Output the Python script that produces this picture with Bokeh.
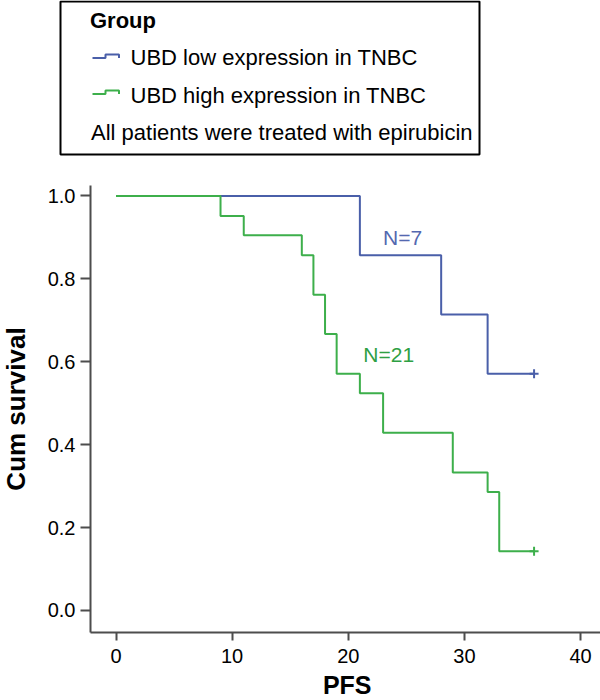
import math
from bokeh.plotting import figure
from bokeh.layouts import column, row
from bokeh.models import Range1d, FixedTicker, CustomJSTickFormatter
from bokeh.core.properties import value
from bokeh.embed import file_html
from bokeh.resources import INLINE

# ---- data (Kaplan-Meier PFS steps) ----
low_time = [0, 21, 28, 32, 36]
low_surv = [1.0, 0.857, 0.714, 0.571, 0.571]
high_time = [0, 9, 11, 16, 17, 18, 19, 21, 23, 29, 32, 33, 36]
high_surv = [1.0, 0.952, 0.905, 0.857, 0.762, 0.667, 0.571, 0.524, 0.429, 0.333, 0.286, 0.143, 0.143]
low_censor_t = [36]
low_censor_s = [0.571]
high_censor_t = [36]
high_censor_s = [0.143]
x_ticks = [0, 10, 20, 30, 40]
y_ticks = [0.0, 0.2, 0.4, 0.6, 0.8, 1.0]
group_labels = ["UBD low expression in TNBC", "UBD high expression in TNBC"]
n_labels = ["N=7", "N=21"]
x_title = "PFS"
y_title = "Cum survival"

BLUE = "#4a5fa9"
GREEN = "#3daf4b"
FONT = value("Liberation Sans")

# ---- legend panel (coordinates = pixels of the panel) ----
LH = 170
lf = figure(width=600, height=LH, x_range=Range1d(0, 600), y_range=Range1d(LH, 0),
            output_backend="svg", toolbar_location=None, min_border=0,
            x_axis_location=None, y_axis_location=None, outline_line_color=None)
lf.grid.grid_line_color = None
lf.quad(left=[60], right=[479], top=[1], bottom=[154], fill_color=None,
        line_color="black", line_width=2)
lf.text(x=[89.5], y=[20.3], text=["Group"], text_font=FONT, text_font_style="bold",
        text_font_size="22px", text_baseline="alphabetic", text_align="left", text_color="black")
lf.text(x=[130, 130], y=[56.7, 94.5], text=group_labels, text_font=FONT,
        text_font_size="22px", text_baseline="alphabetic", text_align="left", text_color="black")
lf.text(x=[90.5], y=[131.7], text=["All patients were treated with epirubicin"], text_font=FONT,
        text_font_size="22px", text_baseline="alphabetic", text_align="left", text_color="black")
lf.line([92, 105, 105, 118.5, 118.5], [57.5, 57.5, 54, 54, 57.5], line_color=BLUE, line_width=2)
lf.line([92, 105, 105, 118.5, 118.5], [93.5, 93.5, 90, 90, 93.5], line_color=GREEN, line_width=2)

# ---- chart ----
YW = 32
BT, BB = 185 - LH, 40
CH = 632 + BB - LH
p = figure(width=600 - YW, height=CH, x_range=Range1d(-2.196, 41.72), y_range=Range1d(-0.0531, 1.0253),
           output_backend="svg", toolbar_location=None,
           min_border_left=90 - YW, min_border_right=0, min_border_top=BT, min_border_bottom=BB,
           outline_line_color=None)
p.grid.grid_line_color = None

p.step(low_time, low_surv, mode="after", line_color=BLUE, line_width=2)
p.step(high_time, high_surv, mode="after", line_color=GREEN, line_width=2)
p.scatter(low_censor_t, low_censor_s, marker="cross", size=9, line_color=BLUE, line_width=2)
p.scatter(high_censor_t, high_censor_s, marker="cross", size=9, line_color=GREEN, line_width=2)

p.text(x=[23.0], y=[0.9006], text=[n_labels[0]], text_font=FONT, text_font_size="21px",
       text_color="#5468b0", text_baseline="alphabetic", text_align="left")
p.text(x=[21.3], y=[0.6176], text=[n_labels[1]], text_font=FONT, text_font_size="21px",
       text_color="#2ea043", text_baseline="alphabetic", text_align="left")

for ax in (p.xaxis[0], p.yaxis[0]):
    ax.axis_line_color = "#4d4d4d"
    ax.axis_line_width = 2
    ax.major_tick_line_color = "#4d4d4d"
    ax.major_tick_line_width = 2
    ax.minor_tick_line_color = None
    ax.major_tick_in = 0
    ax.major_label_text_font = "Liberation Sans"
    ax.major_label_text_font_size = "20px"
    ax.major_label_text_color = "black"

p.xaxis.ticker = FixedTicker(ticks=x_ticks)
p.yaxis.ticker = FixedTicker(ticks=y_ticks)
p.yaxis.formatter = CustomJSTickFormatter(code="return tick.toFixed(1);")
p.xaxis.major_tick_out = 8
p.xaxis.major_label_standoff = 8
p.yaxis.major_tick_out = 10
p.yaxis.major_label_standoff = 5

# ---- y-axis title strip (shares the chart's y scale) ----
yl = figure(width=YW, height=CH, x_range=Range1d(0, YW), y_range=p.y_range,
            output_backend="svg", toolbar_location=None,
            min_border_left=0, min_border_right=0, min_border_top=BT, min_border_bottom=BB,
            x_axis_location=None, y_axis_location=None, outline_line_color=None)
yl.grid.grid_line_color = None
yl.text(x=[15.5], y=[(p.y_range.start + p.y_range.end) / 2], text=[y_title], angle=math.pi / 2,
        text_font=FONT, text_font_style="bold", text_font_size="26px",
        text_baseline="alphabetic", text_align="center", text_color="black")

# ---- x-axis title strip ----
XH = 700 - LH - CH
xl = figure(width=600, height=XH, x_range=Range1d(0, 600), y_range=Range1d(XH, 0),
            output_backend="svg", toolbar_location=None, min_border=0,
            x_axis_location=None, y_axis_location=None, outline_line_color=None)
xl.grid.grid_line_color = None
xl.text(x=[346.7], y=[12], text=[x_title], text_font=FONT, text_font_style="bold",
        text_font_size="25px", text_baseline="alphabetic", text_align="center", text_color="black")

layout = column(row(lf), row(yl, p, spacing=0), row(xl), spacing=0)
open("out.html", "w").write(file_html(layout, INLINE))
